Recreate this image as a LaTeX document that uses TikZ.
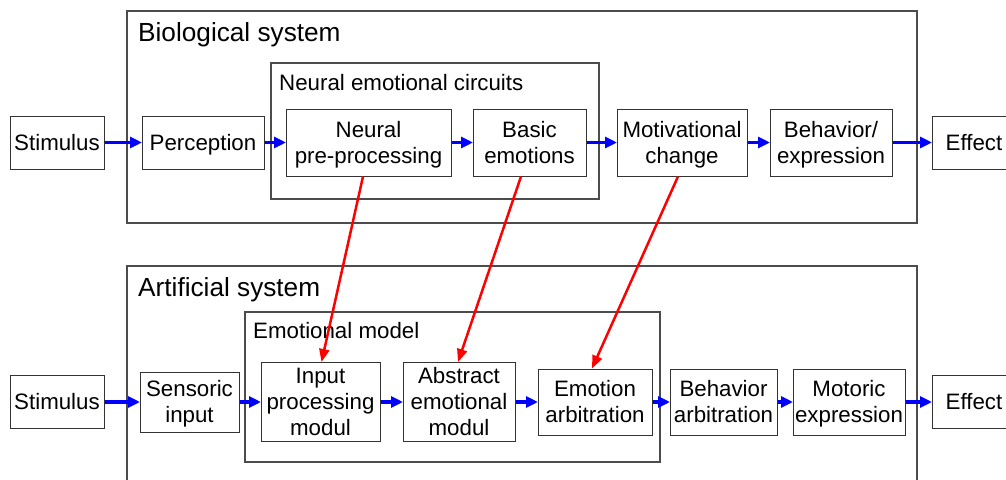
\documentclass[tikz,border=0pt]{standalone}
\usepackage{fontspec}
\setmainfont{Liberation Sans}
\usetikzlibrary{arrows.meta,calc}
\begin{document}
\begin{tikzpicture}[x=1pt,y=-1pt,
  blk/.style={draw=black!80, line width=1pt, inner sep=0pt, align=center,
    font=\fontsize{22.3}{26}\selectfont, text height=20.2pt, text depth=4.7pt},
  twolines/.style={text height=46.2pt},
  threelines/.style={text height=72.2pt},
  frame/.style={draw=black!70, line width=1.1pt},
  frametitle/.style={anchor=base west, inner sep=0pt, font=\fontsize{26.2}{30}\selectfont},
  subtitle/.style={anchor=base west, inner sep=0pt, font=\fontsize{22.3}{26}\selectfont},
  flow/.style={draw=blue, line width=3.3pt, -{Triangle[length=12pt,width=11pt]}, shorten >=-0.5pt},
  link/.style={draw=red, line width=2.5pt, -{Triangle[length=13pt,width=10pt]}}]
\useasboundingbox (0,0) rectangle (1006,479);
\clip (0,0) rectangle (1006,479);

% Biological system
\draw[frame] (127,11) rectangle (917,223);
\node[frametitle] (biotitle) at (138,41) {Biological system};
\draw[frame] (271,63) rectangle (599,199);
\node[subtitle] (nectitle) at (279,90) {Neural emotional circuits};

\node[blk, minimum width=94pt, minimum height=53pt] (stimA) at (57,142.5) {Stimulus};
\node[blk, minimum width=122pt, minimum height=53pt] (perc) at (203,142.5) {Perception};
\node[blk, twolines, minimum width=165pt, minimum height=67pt] (npp) at (368.5,142.5) {Neural\\pre-processing};
\node[blk, twolines, minimum width=113pt, minimum height=67pt] (basic) at (529.5,142.5) {Basic\\emotions};
\node[blk, twolines, minimum width=130pt, minimum height=67pt] (motiv) at (682,142.5) {Motivational\\change};
\node[blk, twolines, minimum width=122pt, minimum height=67pt] (behav) at (831,142.5) {Behavior/\\expression};
\node[blk, minimum width=84pt, minimum height=53pt] (effA) at (974,142.5) {Effect};

\draw[flow] (stimA) -- (perc);
\draw[flow] (perc) -- (npp);
\draw[flow] (npp) -- (basic);
\draw[flow] (basic) -- (motiv);
\draw[flow] (motiv) -- (behav);
\draw[flow] (behav) -- (effA);

% Artificial system
\draw[frame] (127,266) rectangle (917,500);
\node[frametitle] (arttitle) at (138,296) {Artificial system};
\draw[frame] (245,312) rectangle (660,462);
\node[subtitle] (emtitle) at (253,338) {Emotional model};

\node[blk, minimum width=94pt, minimum height=53pt] (stimB) at (57,402) {Stimulus};
\node[blk, twolines, minimum width=99pt, minimum height=60pt] (sens) at (189.5,402) {Sensoric\\input};
\node[blk, threelines, minimum width=119pt, minimum height=79pt] (inp) at (320.5,402) {Input\\processing\\modul};
\node[blk, threelines, minimum width=112pt, minimum height=79pt] (abs) at (459,402) {Abstract\\emotional\\modul};
\node[blk, twolines, minimum width=114pt, minimum height=66pt] (emo) at (595,402) {Emotion\\arbitration};
\node[blk, twolines, minimum width=107pt, minimum height=66pt] (barb) at (723.5,402) {Behavior\\arbitration};
\node[blk, twolines, minimum width=112pt, minimum height=66pt] (mot) at (849,402) {Motoric\\expression};
\node[blk, minimum width=84pt, minimum height=53pt] (effB) at (974,402) {Effect};

\draw[flow] (stimB) -- (sens);
\draw[flow] (sens) -- (inp);
\draw[flow] (inp) -- (abs);
\draw[flow] (abs) -- (emo);
\draw[flow] (emo) -- (barb);
\draw[flow] (barb) -- (mot);
\draw[flow] (mot) -- (effB);

% Correspondences between the two systems
\draw[link] ($(npp.south)+(-5.5,0)$) -- ($(inp.north)+(1,0)$);
\draw[link] ($(basic.south)+(-8.5,0)$) -- ($(abs.north)+(-1,0)$);
\draw[link] ($(motiv.south)+(-4,0)$) -- ($(emo.north)+(-3,0)$);
\end{tikzpicture}
\end{document}
